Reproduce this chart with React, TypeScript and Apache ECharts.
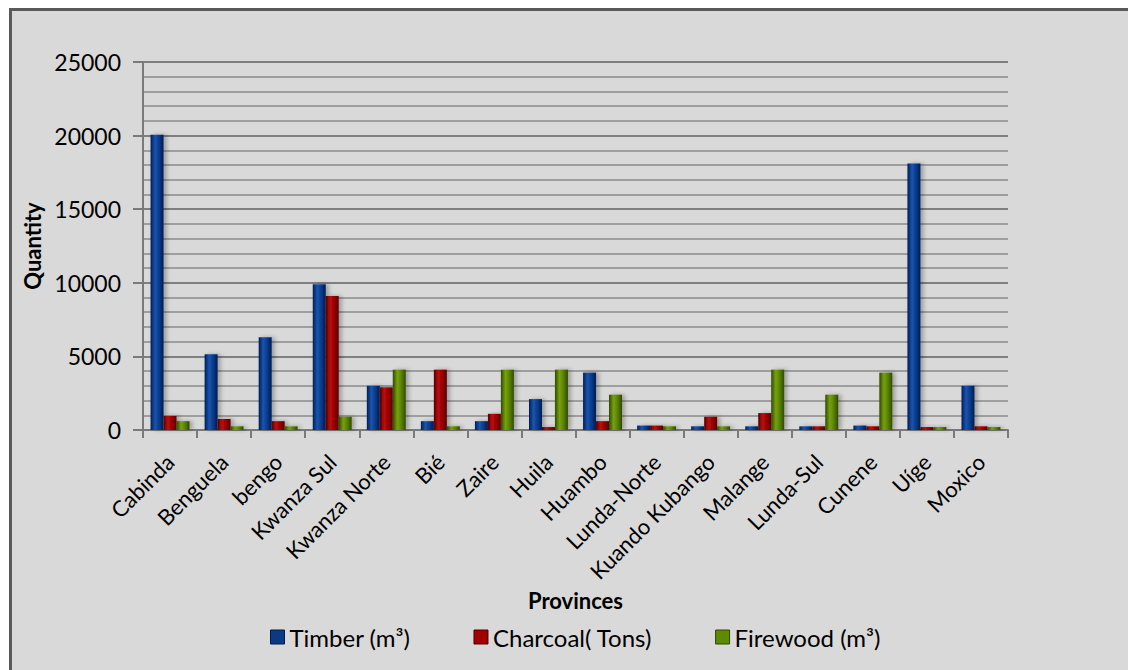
import React, { useEffect, useRef } from "react";
import * as echarts from "echarts";

const provinces = [
  "Cabinda", "Benguela", "bengo", "Kwanza Sul", "Kwanza Norte", "Bié", "Zaire", "Huila",
  "Huambo", "Lunda-Norte", "Kuando Kubango", "Malange", "Lunda-Sul", "Cunene", "Uíge", "Moxico",
];
const timber = [20050, 5150, 6300, 9900, 3000, 600, 600, 2100, 3900, 300, 250, 250, 250, 300, 18100, 3000];
const charcoal = [950, 750, 600, 9100, 2900, 4100, 1100, 200, 600, 300, 900, 1150, 250, 250, 200, 250];
const firewood = [600, 250, 250, 900, 4100, 250, 4100, 4100, 2400, 250, 250, 4100, 2400, 3900, 200, 200];
const seriesNames = ["Timber (m³)", "Charcoal( Tons)", "Firewood (m³)"];
const yTicks = [0, 5000, 10000, 15000, 20000, 25000];

const FONT = "Lato, 'Open Sans', sans-serif";

function grad(edge: string, mid: string, light: string) {
  return new echarts.graphic.LinearGradient(0, 0, 1, 0, [
    { offset: 0, color: edge },
    { offset: 0.35, color: light },
    { offset: 0.6, color: mid },
    { offset: 1, color: edge },
  ]);
}

export default function App() {
  const ref = useRef<HTMLDivElement>(null);
  useEffect(() => {
    if (!ref.current) return;
    const chart = echarts.init(ref.current, null, { renderer: "svg" });
    const mk = (name: string, data: number[], color: any) => ({
      name,
      type: "bar",
      data,
      barGap: "0%",
      barCategoryGap: "28%",
      itemStyle: {
        color,
        shadowBlur: 4,
        shadowColor: "rgba(0,0,0,0.28)",
        shadowOffsetX: 3,
        shadowOffsetY: 0,
      },
      emphasis: { disabled: true },
    });
    chart.setOption({
      animation: false,
      backgroundColor: "#ffffff",
      textStyle: { fontFamily: FONT },
      graphic: [
        {
          type: "rect",
          silent: true,
          z: -10,
          shape: { x: 10.5, y: 9.5, width: 1130, height: 700 },
          style: { fill: "#d9d9d9", stroke: "#595959", lineWidth: 3 },
        },
      ],
      grid: { left: 143, top: 62, width: 865, height: 368 },
      legend: {
        bottom: 16,
        left: 265,
        itemWidth: 14,
        itemHeight: 14,
        itemGap: 63,
        icon: "rect",
        data: [
          { name: seriesNames[0], itemStyle: { color: "#0b3a85", borderColor: "#001a4a", borderWidth: 1 } },
          { name: seriesNames[1], itemStyle: { color: "#a00000", borderColor: "#500000", borderWidth: 1 } },
          { name: seriesNames[2], itemStyle: { color: "#5f8a00", borderColor: "#304800", borderWidth: 1 } },
        ],
        textStyle: { fontFamily: FONT, fontSize: 24, color: "#000" },
      },
      xAxis: {
        type: "category",
        data: provinces,
        name: "Provinces",
        nameLocation: "middle",
        nameGap: 153,
        nameTextStyle: { fontFamily: FONT, fontSize: 22, fontWeight: "bold", color: "#000" },
        axisLine: { show: true, lineStyle: { color: "#7a7a7a", width: 2 } },
        axisTick: { show: true, length: 8, lineStyle: { color: "#7a7a7a", width: 2 } },
        axisLabel: {
          rotate: 45,
          fontFamily: FONT,
          fontSize: 22,
          color: "#000",
          interval: 0,
          margin: 28,
        },
      },
      yAxis: {
        type: "value",
        min: 0,
        max: 25000,
        interval: 5000,
        name: "Quantity",
        nameLocation: "middle",
        nameRotate: 90,
        nameGap: 100,
        nameTextStyle: { fontFamily: FONT, fontSize: 22, fontWeight: "bold", color: "#000" },
        axisLine: { show: true, lineStyle: { color: "#7a7a7a", width: 2 } },
        axisTick: { show: true, length: 10, lineStyle: { color: "#7a7a7a", width: 2 } },
        axisLabel: {
          fontFamily: FONT,
          fontSize: 23,
          color: "#000",
          margin: 22,
          formatter: (v: number) => (yTicks.includes(v) ? String(v) : ""),
        },
        splitLine: { show: true, lineStyle: { color: "#7f7f7f", width: 2 } },
        minorTick: { show: false, splitNumber: 5 },
        minorSplitLine: { show: true, lineStyle: { color: "#8a8a8a", width: 1.5 } },
      },
      series: [
        mk(seriesNames[0], timber, grad("#001d55", "#0b3f8f", "#1a55b0")),
        mk(seriesNames[1], charcoal, grad("#5a0000", "#a00000", "#b81010")),
        mk(seriesNames[2], firewood, grad("#2f4a00", "#5f8a00", "#77a010")),
      ],
    });
    return () => chart.dispose();
  }, []);
  return (
    <div
      ref={ref}
      style={{ position: "fixed", left: 0, top: 0, width: 1128, height: 670 }}
    />
  );
}
